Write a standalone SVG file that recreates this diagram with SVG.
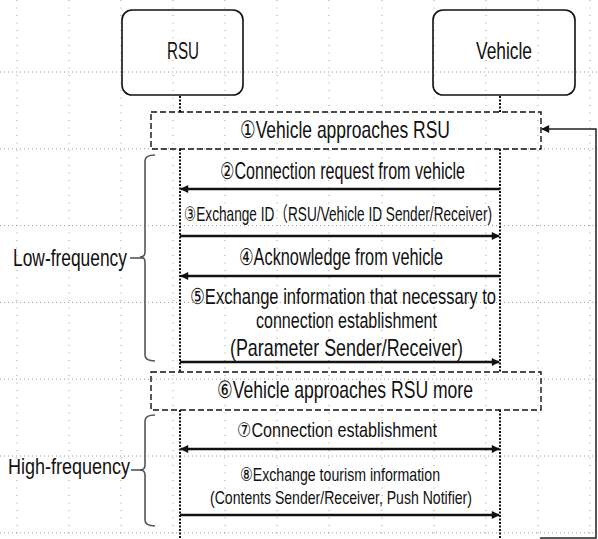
<svg xmlns="http://www.w3.org/2000/svg" width="598" height="539" viewBox="0 0 598 539">
  <style>
    .grid-v { stroke: #9a9a9a; stroke-width: 1; stroke-dasharray: 1 6.5; }
    .grid-h { stroke: #9a9a9a; stroke-width: 1; stroke-dasharray: 1 3; }
    .actor { fill: none; stroke: #111; stroke-width: 1.6; }
    .stage { fill: none; stroke: #111; stroke-width: 1.4; stroke-dasharray: 6 3; }
    .life { stroke: #111; stroke-width: 2; stroke-dasharray: 2 1.5; }
    .msg { stroke: #111; stroke-width: 2.5; fill: none; }
    .loop { stroke: #222; stroke-width: 1.5; fill: none; }
    .brace { stroke: #555; stroke-width: 1.6; fill: none; }
    text { font-family: "Liberation Sans", "DejaVu Sans", "Noto Sans CJK JP", sans-serif; fill: #111; }
  </style>
  <defs>
    <marker id="head" viewBox="0 0 10 10" refX="9" refY="5" markerWidth="9" markerHeight="8" markerUnits="userSpaceOnUse" orient="auto-start-reverse">
      <path d="M0,0 L10,5 L0,10 z" fill="#111"/>
    </marker>
    <marker id="headThin" viewBox="0 0 10 10" refX="9" refY="5" markerWidth="9" markerHeight="8" markerUnits="userSpaceOnUse" orient="auto">
      <path d="M0,0 L10,5 L0,10 z" fill="#111"/>
    </marker>
  </defs>

  <!-- background dotted grid -->
  <g id="grid">
    <line class="grid-v" x1="17" y1="0" x2="17" y2="539"/>
    <line class="grid-v" x1="69" y1="0" x2="69" y2="539"/>
    <line class="grid-v" x1="121" y1="0" x2="121" y2="539"/>
    <line class="grid-v" x1="173" y1="0" x2="173" y2="539"/>
    <line class="grid-v" x1="225" y1="0" x2="225" y2="539"/>
    <line class="grid-v" x1="277" y1="0" x2="277" y2="539"/>
    <line class="grid-v" x1="329" y1="0" x2="329" y2="539"/>
    <line class="grid-v" x1="382" y1="0" x2="382" y2="539"/>
    <line class="grid-v" x1="434" y1="0" x2="434" y2="539"/>
    <line class="grid-v" x1="486" y1="0" x2="486" y2="539"/>
    <line class="grid-v" x1="538" y1="0" x2="538" y2="539"/>
    <line class="grid-v" x1="590" y1="0" x2="590" y2="539"/>
    <line class="grid-h" x1="0" y1="72" x2="598" y2="72"/>
    <line class="grid-h" x1="0" y1="148.8" x2="598" y2="148.8"/>
    <line class="grid-h" x1="0" y1="225.6" x2="598" y2="225.6"/>
    <line class="grid-h" x1="0" y1="302.4" x2="598" y2="302.4"/>
    <line class="grid-h" x1="0" y1="379.2" x2="598" y2="379.2"/>
    <line class="grid-h" x1="0" y1="456" x2="598" y2="456"/>
    <line class="grid-h" x1="0" y1="532.8" x2="598" y2="532.8"/>
  </g>

  <!-- participants (labels use a narrow horizontal scale) -->
  <g id="rsu">
    <rect class="actor" x="122" y="10" width="121" height="85" rx="10"/>
    <text transform="translate(167,59) scale(0.75,1)" font-size="23" textLength="42.7" lengthAdjust="spacingAndGlyphs">RSU</text>
  </g>
  <g id="vehicle">
    <rect class="actor" x="433" y="10" width="142" height="85" rx="10"/>
    <text transform="translate(476,59) scale(0.75,1)" font-size="23" textLength="74.7" lengthAdjust="spacingAndGlyphs">Vehicle</text>
  </g>

  <!-- lifelines -->
  <g id="lifelines">
    <line class="life" x1="180" y1="96" x2="180" y2="112"/>
    <line class="life" x1="180" y1="149" x2="180" y2="372"/>
    <line class="life" x1="180" y1="410" x2="180" y2="539"/>
    <line class="life" x1="500" y1="96" x2="500" y2="112"/>
    <line class="life" x1="500" y1="149" x2="500" y2="372"/>
    <line class="life" x1="500" y1="410" x2="500" y2="539"/>
  </g>

  <!-- stage frames -->
  <g id="stage1">
    <rect class="stage" x="151" y="112" width="390" height="37"/>
    <text transform="translate(240,138) scale(0.75,1)" font-size="24" textLength="280" lengthAdjust="spacingAndGlyphs">①Vehicle approaches RSU</text>
  </g>
  <g id="stage6">
    <rect class="stage" x="151" y="372" width="390" height="38"/>
    <text transform="translate(217,398) scale(0.75,1)" font-size="24" textLength="341.3" lengthAdjust="spacingAndGlyphs">⑥Vehicle approaches RSU more</text>
  </g>

  <!-- frequency groupings -->
  <g id="low-frequency">
    <path class="brace" d="M155,155 Q145,155 145,161 V252 Q145,257 140,257 Q145,257 145,262 V355 Q145,361 155,361"/>
    <line class="brace" x1="130" y1="258" x2="143" y2="258"/>
    <text transform="translate(13,266) scale(0.75,1)" font-size="23" textLength="152" lengthAdjust="spacingAndGlyphs">Low-frequency</text>
  </g>
  <g id="high-frequency">
    <path class="brace" d="M155,415 Q145,415 145,421 V465 Q145,470 140,470 Q145,470 145,475 V520 Q145,526 155,526"/>
    <line class="brace" x1="131" y1="470" x2="143" y2="470"/>
    <text transform="translate(8,474) scale(0.75,1)" font-size="22" textLength="162.7" lengthAdjust="spacingAndGlyphs">High-frequency</text>
  </g>

  <!-- message labels -->
  <g id="labels">
    <text transform="translate(220,179) scale(0.75,1)" font-size="23" textLength="326.7" lengthAdjust="spacingAndGlyphs">②Connection request from vehicle</text>
    <text transform="translate(184,221) scale(0.75,1)" font-size="20" textLength="410.7" lengthAdjust="spacingAndGlyphs">③Exchange ID（RSU/Vehicle ID Sender/Receiver)</text>
    <text transform="translate(239,265) scale(0.75,1)" font-size="23" textLength="272" lengthAdjust="spacingAndGlyphs">④Acknowledge from vehicle</text>
    <text transform="translate(190,304) scale(0.75,1)" font-size="22" textLength="408" lengthAdjust="spacingAndGlyphs">⑤Exchange information that necessary to</text>
    <text transform="translate(256,328) scale(0.75,1)" font-size="22" textLength="241.3" lengthAdjust="spacingAndGlyphs">connection establishment</text>
    <text transform="translate(230,356) scale(0.75,1)" font-size="24" textLength="310.7" lengthAdjust="spacingAndGlyphs">(Parameter Sender/Receiver)</text>
    <text transform="translate(237,437) scale(0.75,1)" font-size="20" textLength="266.7" lengthAdjust="spacingAndGlyphs">⑦Connection establishment</text>
    <text transform="translate(240,481) scale(0.75,1)" font-size="19" textLength="266.7" lengthAdjust="spacingAndGlyphs">⑧Exchange tourism information</text>
    <text transform="translate(210,504) scale(0.75,1)" font-size="18" textLength="349.3" lengthAdjust="spacingAndGlyphs">(Contents Sender/Receiver, Push Notifier)</text>
  </g>

  <!-- connectors -->
  <g id="connectors">
    <line class="msg" x1="500" y1="189" x2="181" y2="189" marker-end="url(#head)"/>
    <line class="msg" x1="180" y1="236" x2="499" y2="236" marker-end="url(#head)"/>
    <line class="msg" x1="500" y1="276" x2="181" y2="276" marker-end="url(#head)"/>
    <line class="msg" x1="180" y1="362" x2="499" y2="362" marker-end="url(#head)"/>
    <line class="msg" x1="181" y1="449" x2="499" y2="449" marker-start="url(#head)" marker-end="url(#head)"/>
    <line class="msg" x1="180" y1="515" x2="499" y2="515" marker-end="url(#head)"/>
    <path class="loop" d="M540,538 H596 V129 H542" marker-end="url(#headThin)"/>
  </g>
</svg>
